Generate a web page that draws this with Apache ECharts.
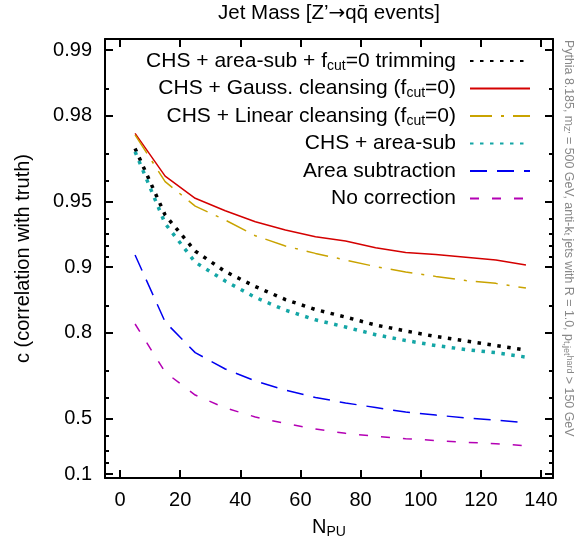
<!DOCTYPE html>
<html><head><meta charset="utf-8">
<script src="https://cdn.jsdelivr.net/npm/echarts@6/dist/echarts.min.js"></script>
<style>html,body{margin:0;padding:0;background:#fff}#c{width:582px;height:550px}</style>
</head><body><div id="c"></div>
<script>
// ---- data (c = correlation with truth) ----
const nPU = [5, 15, 25, 35, 45, 55, 65, 75, 85, 95, 105, 115, 125, 135];
const trimming   = [0.9716, 0.9424, 0.9156, 0.8951, 0.877, 0.8588, 0.843, 0.830, 0.815, 0.803, 0.791, 0.781, 0.770, 0.759];
const gaussClean = [0.9758, 0.9619, 0.9518, 0.945, 0.9382, 0.9325, 0.9275, 0.9241, 0.9185, 0.9144, 0.9124, 0.9098, 0.9072, 0.9021];
const linearClean= [0.9754, 0.9596, 0.9476, 0.9393, 0.9283, 0.920, 0.9135, 0.9072, 0.9005, 0.8946, 0.8896, 0.8846, 0.8811, 0.875];
const chsAreaSub = [0.9706, 0.937, 0.905, 0.884, 0.862, 0.842, 0.825, 0.811, 0.795, 0.782, 0.770, 0.760, 0.752, 0.740];
const areaSub    = [0.912, 0.821, 0.752, 0.705, 0.665, 0.631, 0.601, 0.577, 0.556, 0.534, 0.519, 0.504, 0.493, 0.478];
const noCorr     = [0.817, 0.695, 0.611, 0.554, 0.509, 0.474, 0.442, 0.416, 0.397, 0.382, 0.370, 0.358, 0.348, 0.334];

const yMajorTicks = [0.99, 0.98, 0.95, 0.9, 0.8, 0.5, 0.1];
const yMinorTicks = [0.985, 0.97, 0.96, 0.94, 0.93, 0.92, 0.91, 0.85, 0.7, 0.6, 0.4, 0.3, 0.2];
const xTicks = [0, 20, 40, 60, 80, 100, 120, 140];
const xRange = [-5, 144];
const yRange = [0.062, 0.99111];

const seriesNames = ['trim', 'gauss', 'linear', 'chsarea', 'area', 'none'];
const legendLabels = [
  'CHS + area-sub + f{s|cut}=0 trimming',
  'CHS + Gauss. cleansing (f{s|cut}=0)',
  'CHS + Linear cleansing (f{s|cut}=0)',
  'CHS + area-sub',
  'Area subtraction',
  'No correction'
];
const seriesValues = [trimming, gaussClean, linearClean, chsAreaSub, areaSub, noCorr];
const seriesColors = ['#000000', '#d40000', '#c9a300', '#14a6a6', '#0000f0', '#b400b4'];
const seriesStyles = [
  {width: 3.5, type: [3.5, 6.5]},
  {width: 1.5, type: 'solid'},
  {width: 1.5, type: [22, 9, 3, 9]},
  {width: 3.5, type: [3.5, 6.5]},
  {width: 1.5, type: [17, 10]},
  {width: 1.5, type: [9, 13]}
];

// y scale: -log10(1-c)
function f(c) { return -Math.log10(1 - c); }
function inv(v) { return 1 - Math.pow(10, -v); }

const FONT = 'Liberation Sans, Arial, Helvetica, sans-serif';
const chart = echarts.init(document.getElementById('c'), null, {renderer: 'canvas'});

const lineBlack = {color: '#000', width: 2};
const yMin = f(yRange[0]), yMax = f(yRange[1]);

function yAx(pos, ticks, len, showLine, labels) {
  const ax = {
    type: 'value', min: yMin, max: yMax, position: pos, offset: 0,
    axisLine: {show: showLine, onZero: false, lineStyle: lineBlack},
    axisTick: {show: true, inside: true, length: len, customValues: ticks.map(f), lineStyle: lineBlack},
    axisLabel: {show: false},
    splitLine: {show: false}
  };
  if (labels) {
    ax.axisLabel = {show: true, customValues: ticks.map(f), margin: 13, fontSize: 20, fontFamily: FONT, color: '#000',
      formatter: v => String(+inv(v).toFixed(3))};
    ax.name = 'c (correlation with truth)';
    ax.nameLocation = 'middle';
    ax.nameGap = 72;
    ax.nameTextStyle = {fontSize: 20, fontFamily: FONT, color: '#000'};
  }
  return ax;
}

const option = {
  animation: false,
  backgroundColor: '#fff',
  title: {
    text: 'Jet Mass [Z\u2019{a|\u2192}qq\u0304 events]',
    left: 329, top: 3, textAlign: 'center', padding: 0,
    textStyle: {fontSize: 20.5, fontWeight: 'normal', fontFamily: FONT, color: '#000',
      rich: {a: {fontSize: 20, fontFamily: 'DejaVu Sans', color: '#000'}}}
  },
  grid: {left: 105, right: 29, top: 39, bottom: 72, containLabel: false},
  legend: {
    orient: 'vertical', right: 51, top: 49, align: 'right', padding: 0,
    itemWidth: 60, itemHeight: 14, itemGap: 3.5,
    data: seriesNames,
    itemStyle: {opacity: 0, color: 'transparent', borderWidth: 0},
    formatter: name => legendLabels[seriesNames.indexOf(name)],
    textStyle: {fontSize: 21, fontFamily: FONT, color: '#000', lineHeight: 24, padding: [0, 9, 0, 0],
      rich: {s: {fontSize: 14, lineHeight: 14, fontFamily: FONT, color: '#000', verticalAlign: 'bottom'}}}
  },
  xAxis: [
    {
      type: 'value', min: xRange[0], max: xRange[1], position: 'bottom',
      axisLine: {show: true, onZero: false, lineStyle: lineBlack},
      axisTick: {show: true, inside: true, length: 8, customValues: xTicks, lineStyle: lineBlack},
      axisLabel: {customValues: xTicks, margin: 12, fontSize: 20, fontFamily: FONT, color: '#000'},
      splitLine: {show: false},
      name: '{n|N}{s|PU}', nameLocation: 'middle', nameGap: 37,
      nameTextStyle: {rich: {
        n: {fontSize: 20, fontFamily: FONT, color: '#000', lineHeight: 24},
        s: {fontSize: 14, fontFamily: FONT, color: '#000', lineHeight: 14, verticalAlign: 'bottom'}
      }}
    },
    {
      type: 'value', min: xRange[0], max: xRange[1], position: 'top',
      axisLine: {show: true, onZero: false, lineStyle: lineBlack},
      axisTick: {show: true, inside: true, length: 8, customValues: xTicks, lineStyle: lineBlack},
      axisLabel: {show: false}, splitLine: {show: false}
    }
  ],
  yAxis: [
    yAx('left', yMajorTicks, 8, true, true),
    yAx('left', yMinorTicks, 4, false, false),
    yAx('right', yMajorTicks, 8, true, false),
    yAx('right', yMinorTicks, 4, false, false)
  ],
  graphic: [{
    type: 'text', x: 568, y: 40, rotation: -Math.PI / 2,
    style: {
      text: 'Pythia 8.185, m{s|Z\u2019} = 500 GeV, anti-k{s|t} jets with R = 1.0, p{s|t,jet}{u|hard} > 150 GeV',
      fontSize: 12.4, fontFamily: FONT, fill: '#888', align: 'left', verticalAlign: 'middle',
      rich: {
        s: {fontSize: 9, fontFamily: FONT, fill: '#888', verticalAlign: 'bottom', lineHeight: 9},
        u: {fontSize: 9, fontFamily: FONT, fill: '#888', verticalAlign: 'top', lineHeight: 9}
      }
    }
  }],
  series: seriesNames.map((nm, i) => ({
    type: 'line', name: nm, xAxisIndex: 0, yAxisIndex: 0,
    data: nPU.map((x, j) => [x, f(seriesValues[i][j])]),
    symbol: 'none', showSymbol: false,
    lineStyle: Object.assign({color: seriesColors[i]}, seriesStyles[i]),
    itemStyle: {color: seriesColors[i]},
    emphasis: {disabled: true}
  }))
};
chart.setOption(option);
</script>
</body></html>
